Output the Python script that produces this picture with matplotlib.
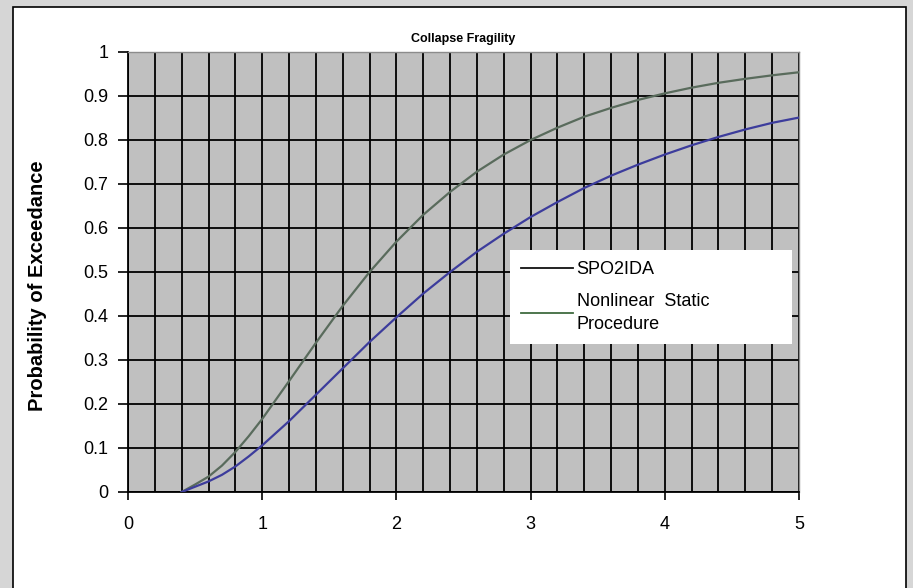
import matplotlib
matplotlib.use("Agg")
import matplotlib.pyplot as plt
from matplotlib.lines import Line2D
from matplotlib.patches import Rectangle
import numpy as np

plt.rcParams['font.family'] = ['Liberation Sans', 'DejaVu Sans']

## values
x_vals = [0.4, 0.5, 0.6, 0.7, 0.8, 0.9, 1.0, 1.2, 1.4, 1.6, 1.8, 2.0, 2.2, 2.4,
          2.6, 2.8, 3.0, 3.2, 3.4, 3.6, 3.8, 4.0, 4.2, 4.4, 4.6, 4.8, 5.0]
upper_curve = [0.0, 0.017, 0.035, 0.060, 0.091, 0.127, 0.166, 0.252, 0.339, 0.423,
               0.500, 0.569, 0.630, 0.682, 0.728, 0.767, 0.800, 0.828, 0.853, 0.873,
               0.891, 0.906, 0.919, 0.930, 0.939, 0.947, 0.954]
lower_curve = [0.0, 0.012, 0.024, 0.039, 0.058, 0.081, 0.106, 0.161, 0.221, 0.281,
               0.341, 0.397, 0.451, 0.500, 0.546, 0.587, 0.625, 0.659, 0.691, 0.719,
               0.744, 0.767, 0.788, 0.807, 0.824, 0.839, 0.851]
legend_labels = ['SPO2IDA', 'Nonlinear  Static\nProcedure']
legend_colors = ['#111111', '#3f6b3f']

fig = plt.figure(figsize=(9.13, 5.88), dpi=100)
fig.patch.set_facecolor('#d6d6d6')
## white chart panel with black border
fig.patches.append(Rectangle((13/913, -0.02), 893/913, 1 - 7/588 + 0.02,
                             transform=fig.transFigure, facecolor='white',
                             edgecolor='black', linewidth=1.2, zorder=-5))

ax = fig.add_axes([128/913, 96/588, 671/913, 440/588])
ax.set_zorder(2)
ax.set_facecolor('#c0c0c0')

ax.plot(x_vals, upper_curve, color='#596b5c', linewidth=1.6, zorder=3)
ax.plot(x_vals, lower_curve, color='#3c3c9c', linewidth=1.6, zorder=3)

ax.set_xlim(0, 5)
ax.set_ylim(0, 1)
ax.set_xticks(np.arange(0, 6, 1))
ax.set_xticks(np.arange(0, 5.01, 0.2), minor=True)
ax.set_yticks(np.arange(0, 1.01, 0.1))
ax.set_yticklabels(['0', '0.1', '0.2', '0.3', '0.4', '0.5', '0.6', '0.7', '0.8', '0.9', '1'])

ax.grid(True, which='both', axis='x', color='black', linewidth=1.3)
ax.grid(True, which='major', axis='y', color='black', linewidth=1.3)
ax.set_axisbelow(True)

ax.tick_params(axis='x', which='major', direction='out', length=6, width=1.2,
               pad=11, labelsize=13)
ax.tick_params(axis='x', which='minor', length=0)
ax.tick_params(axis='y', direction='out', length=7, width=1.2, pad=7, labelsize=13)

for side in ['left', 'bottom']:
    ax.spines[side].set_color('black')
    ax.spines[side].set_linewidth(1.3)
for side in ['top', 'right']:
    ax.spines[side].set_color('#8c8c8c')
    ax.spines[side].set_linewidth(1.0)

ax.set_title('Collapse Fragility', fontsize=9, fontweight='bold', pad=7)
ax.set_ylabel('Probability of Exceedance', fontsize=14.5, fontweight='bold')
ax.yaxis.set_label_coords(-0.12, 0.47)

handles = [Line2D([], [], color=c, linewidth=1.3) for c in legend_colors]
leg = ax.legend(handles, legend_labels, loc='upper left',
                bbox_to_anchor=(0.569, 0.336, 0.421, 0.214), mode='expand',
                borderaxespad=0, frameon=True, fancybox=False, framealpha=1,
                facecolor='white', edgecolor='none', fontsize=13,
                handlelength=2.9, handletextpad=0.2, labelspacing=0.85,
                borderpad=0.6)
leg.get_frame().set_linewidth(0)
for t in leg.get_texts():
    t.set_linespacing(1.45)

fig.savefig('out.png', dpi=100, facecolor=fig.get_facecolor())
